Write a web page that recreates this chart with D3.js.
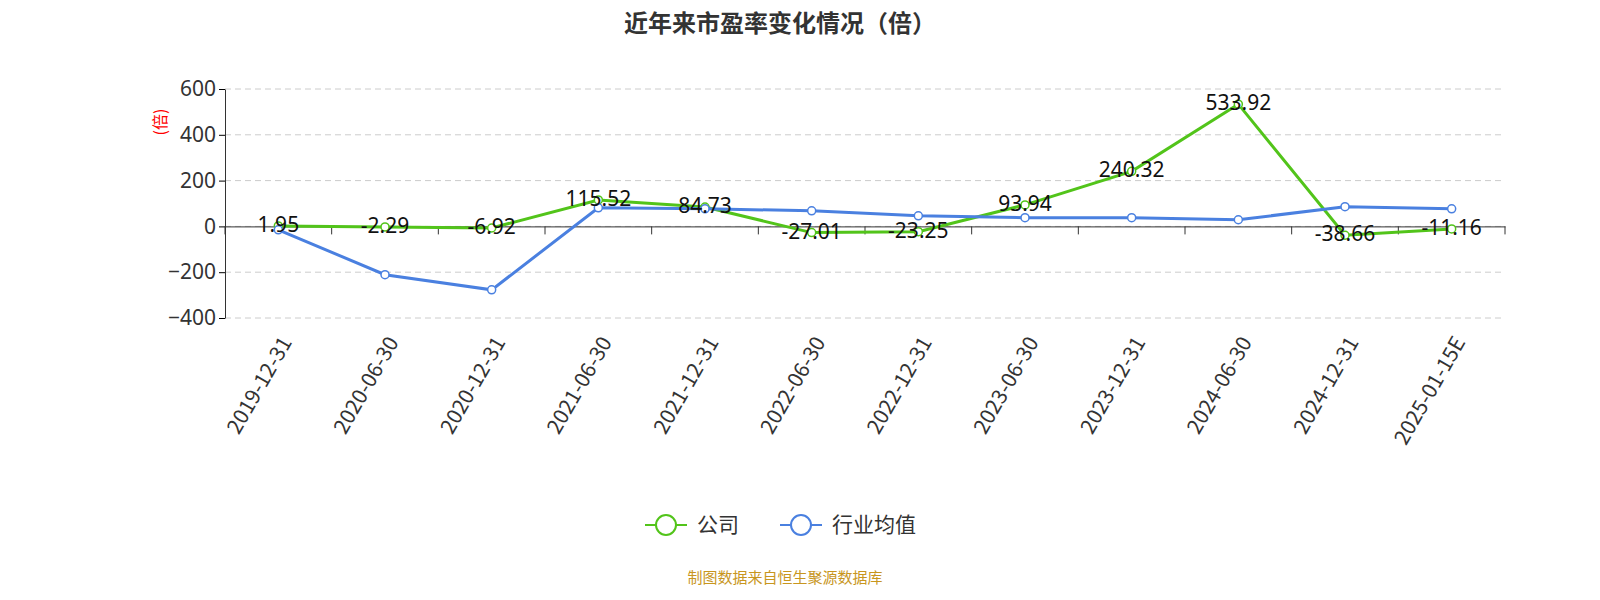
<!DOCTYPE html><html><head><meta charset="utf-8"><script src="https://cdn.jsdelivr.net/npm/d3@7"></script>
<style>body{margin:0;background:#fff;font-family:"Noto Sans CJK SC","Noto Sans",sans-serif}</style></head><body><svg id="c" width="1600" height="600"></svg>
<script>
const categories=["2019-12-31","2020-06-30","2020-12-31","2021-06-30","2021-12-31","2022-06-30","2022-12-31","2023-06-30","2023-12-31","2024-06-30","2024-12-31","2025-01-15E"];
const company=[1.95,-2.29,-6.92,115.52,84.73,-27.01,-23.25,93.94,240.32,533.92,-38.66,-11.16];
const industry=[-15,-211,-277,81,77,68,46,38,38,29,86,77];
const yTicks=[-400,-200,0,200,400,600];
const svg=d3.select("#c");
const x=d3.scaleBand().domain(categories).range([225,1505]);
const y=d3.scaleLinear().domain([-400,600]).range([318,89]);
svg.append("text").attr("x",780).attr("y",32).attr("text-anchor","middle").attr("font-size",24).attr("font-weight","bold").attr("fill","#333").text("近年来市盈率变化情况（倍）");
svg.append("g").selectAll("line").data(yTicks).join("line").attr("x1",225).attr("x2",1505).attr("y1",d=>y(d)).attr("y2",d=>y(d)).attr("stroke","#ccc").attr("stroke-dasharray","6,4");
const ya=svg.append("g").attr("transform","translate(225,0)").call(d3.axisLeft(y).tickValues(yTicks).tickSize(6).tickSizeOuter(0));
ya.selectAll("text").attr("font-size",21).attr("fill","#333").attr("font-family","Noto Sans");
ya.select(".domain").attr("stroke","#333");
const xa=svg.append("g").attr("transform",`translate(0,${y(0)})`).call(d3.axisBottom(x).tickSize(0).tickSizeOuter(0));
xa.select(".domain").attr("stroke","#333");
xa.selectAll("text").remove();
svg.append("g").selectAll("line").data(categories.concat(["end"])).join("line").attr("x1",(d,i)=>225+i*x.step()).attr("x2",(d,i)=>225+i*x.step()).attr("y1",y(0)).attr("y2",y(0)+8).attr("stroke","#333");
svg.append("g").selectAll("text").data(categories).join("text").attr("transform",d=>`translate(${x(d)+x.bandwidth()/2+8},${y(0)+112}) rotate(-60)`).attr("text-anchor","end").attr("font-size",21).attr("fill","#333").attr("dy","0.35em").text(d=>d);
svg.append("text").attr("transform","translate(166,122) rotate(-90)").attr("text-anchor","middle").attr("font-size",16).attr("fill","red").text("(倍)");
const cx=d=>x(d)+x.bandwidth()/2;
function series(vals,color){
 const line=d3.line().x((d,i)=>cx(categories[i])).y(d=>y(d));
 svg.append("path").datum(vals).attr("d",line).attr("fill","none").attr("stroke",color).attr("stroke-width",3);
 svg.append("g").selectAll("circle").data(vals).join("circle").attr("cx",(d,i)=>cx(categories[i])).attr("cy",d=>y(d)).attr("r",4).attr("fill","#fff").attr("stroke",color).attr("stroke-width",1.5);
}
series(company,"#52c41a");
series(industry,"#4a80e0");
svg.append("g").selectAll("text").data(company).join("text").attr("x",(d,i)=>cx(categories[i])).attr("y",d=>y(d)+6).attr("text-anchor","middle").attr("font-size",21).attr("fill","#111").attr("font-family","Noto Sans").text(d=>d.toFixed(2));
const lg=[["公司","#52c41a",645],["行业均值","#4a80e0",780]];
lg.forEach(([t,c,lx])=>{const g=svg.append("g");
 g.append("line").attr("x1",lx).attr("x2",lx+42).attr("y1",525).attr("y2",525).attr("stroke",c).attr("stroke-width",2);
 g.append("circle").attr("cx",lx+21).attr("cy",525).attr("r",10).attr("fill","#fff").attr("stroke",c).attr("stroke-width",2);
 g.append("text").attr("x",lx+52).attr("y",532).attr("font-size",21).attr("fill","#333").text(t);});
svg.append("text").attr("x",785).attr("y",583).attr("text-anchor","middle").attr("font-size",15).attr("fill","#c8961e").text("制图数据来自恒生聚源数据库");
</script></body></html>
